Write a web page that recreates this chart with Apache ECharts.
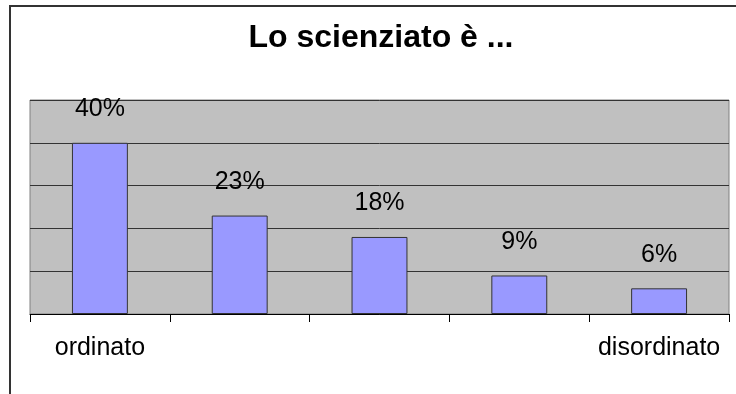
<!DOCTYPE html>
<html>
<head>
<meta charset="utf-8">
<script src="https://cdn.jsdelivr.net/npm/echarts@6/dist/echarts.min.js"></script>
<style>
  html, body { margin: 0; padding: 0; background: #fff; }
  #chart { width: 736px; height: 394px; }
</style>
</head>
<body>
<div id="chart"></div>
<script>
// categorie e valori (percentuali)
const categories = ['ordinato', '', '', '', 'disordinato']
const values = [40, 23, 18, 9, 6]
const title = 'Lo scienziato è ...'

const font = '"Liberation Sans", Arial, sans-serif'

const chart = echarts.init(document.getElementById('chart'))

const option = {
  animation: false,
  backgroundColor: '#fff',
  title: {
    text: title,
    left: 381,
    top: 22,
    padding: 0,
    textAlign: 'center',
    textStyle: { fontFamily: font, fontSize: 32, fontWeight: 'bold', color: '#000' }
  },
  // cornice esterna del grafico
  graphic: [{
    type: 'rect',
    shape: { x: 10, y: 6, width: 900, height: 600 },
    style: { fill: 'none', stroke: '#333', lineWidth: 2 },
    silent: true
  }],
  grid: {
    left: 30,
    right: 7,
    top: 100,
    bottom: 80,
    show: true,
    backgroundColor: '#c0c0c0',
    borderColor: '#808080',
    borderWidth: 1
  },
  xAxis: {
    type: 'category',
    data: categories,
    axisLine: { lineStyle: { color: '#000', width: 1 } },
    axisTick: { show: true, interval: 0, length: 8, lineStyle: { color: '#000' } },
    axisLabel: {
      interval: 0,
      margin: 22,
      fontFamily: font,
      fontSize: 25,
      color: '#000'
    }
  },
  yAxis: {
    type: 'value',
    min: 0,
    max: 50,
    interval: 10,
    axisLabel: { show: false },
    axisTick: { show: false },
    axisLine: { show: false },
    splitLine: { lineStyle: { color: '#333', width: 1 } }
  },
  series: [{
    type: 'bar',
    data: values,
    barWidth: '40%',
    itemStyle: { color: '#9999ff', borderColor: '#333', borderWidth: 1 },
    label: {
      show: true,
      position: 'top',
      distance: 21,
      formatter: '{c}%',
      fontFamily: font,
      fontSize: 25,
      color: '#000'
    }
  }]
}

chart.setOption(option)
</script>
</body>
</html>
